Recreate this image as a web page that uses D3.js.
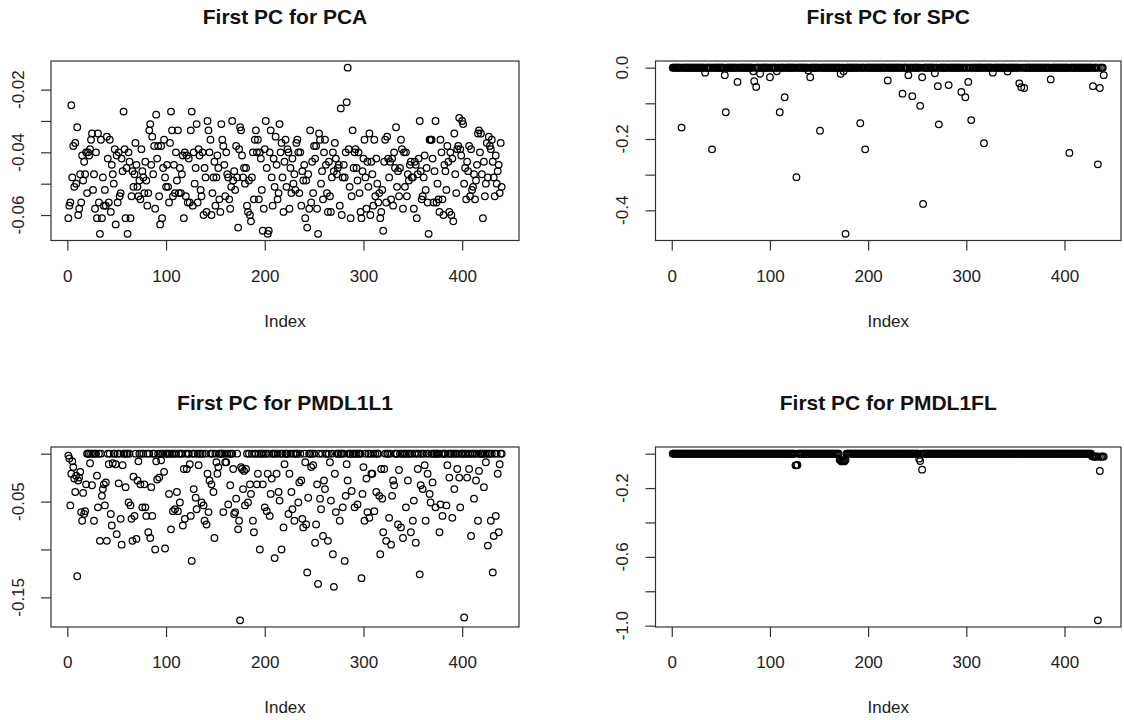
<!DOCTYPE html>
<html>
<head>
<meta charset="utf-8">
<script src="https://cdn.jsdelivr.net/npm/d3@7"></script>
<style>
  body { margin: 0; background: #fff; }
  svg { font-family: "Liberation Sans", Arial, sans-serif; }
</style>
</head>
<body>
<div id="vis"></div>
<script>
//number of loadings in each first PC
const n = 440

//x axis ticks, same for every panel
const xTicks = [0, 100, 200, 300, 400]

//first PC for ordinary PCA, one value per index
const pcaVal = [
  -0.061, -0.057, -0.056, -0.025, -0.048, -0.038, -0.051, -0.037, -0.050, -0.032,
  -0.060, -0.058, -0.047, -0.056, -0.041, -0.049, -0.043, -0.047, -0.040, -0.053,
  -0.040, -0.041, -0.039, -0.036, -0.034, -0.052, -0.047, -0.058, -0.040, -0.061,
  -0.034, -0.056, -0.066, -0.036, -0.061, -0.048, -0.057, -0.052, -0.057, -0.035,
  -0.042, -0.056, -0.036, -0.059, -0.044, -0.047, -0.050, -0.039, -0.063, -0.041,
  -0.056, -0.040, -0.054, -0.053, -0.042, -0.046, -0.027, -0.039, -0.061, -0.045,
  -0.066, -0.040, -0.043, -0.061, -0.054, -0.046, -0.051, -0.047, -0.037, -0.044,
  -0.051, -0.054, -0.049, -0.055, -0.039, -0.046, -0.048, -0.053, -0.043, -0.049,
  -0.057, -0.053, -0.033, -0.031, -0.044, -0.035, -0.047, -0.038, -0.058, -0.028,
  -0.042, -0.038, -0.054, -0.063, -0.038, -0.061, -0.045, -0.036, -0.048, -0.051,
  -0.044, -0.051, -0.056, -0.037, -0.027, -0.033, -0.054, -0.044, -0.053, -0.040,
  -0.049, -0.033, -0.053, -0.045, -0.053, -0.047, -0.041, -0.061, -0.040, -0.054,
  -0.041, -0.056, -0.042, -0.056, -0.033, -0.027, -0.057, -0.040, -0.050, -0.045,
  -0.031, -0.056, -0.039, -0.041, -0.052, -0.054, -0.040, -0.060, -0.045, -0.048,
  -0.059, -0.030, -0.033, -0.040, -0.036, -0.060, -0.053, -0.048, -0.043, -0.057,
  -0.048, -0.041, -0.045, -0.055, -0.059, -0.031, -0.036, -0.038, -0.044, -0.054,
  -0.040, -0.047, -0.048, -0.055, -0.058, -0.051, -0.030, -0.049, -0.046, -0.052,
  -0.038, -0.048, -0.064, -0.039, -0.032, -0.033, -0.041, -0.048, -0.045, -0.050,
  -0.045, -0.057, -0.059, -0.049, -0.060, -0.062, -0.048, -0.040, -0.055, -0.036,
  -0.033, -0.040, -0.036, -0.055, -0.040, -0.042, -0.052, -0.065, -0.058, -0.039,
  -0.030, -0.045, -0.066, -0.065, -0.040, -0.033, -0.048, -0.057, -0.042, -0.051,
  -0.035, -0.044, -0.055, -0.053, -0.031, -0.040, -0.037, -0.048, -0.059, -0.043,
  -0.036, -0.051, -0.039, -0.040, -0.058, -0.045, -0.053, -0.042, -0.050, -0.047,
  -0.052, -0.037, -0.036, -0.040, -0.053, -0.040, -0.057, -0.046, -0.049, -0.044,
  -0.061, -0.049, -0.064, -0.047, -0.058, -0.033, -0.056, -0.043, -0.053, -0.038,
  -0.042, -0.038, -0.058, -0.066, -0.034, -0.036, -0.050, -0.046, -0.055, -0.040,
  -0.036, -0.044, -0.053, -0.059, -0.043, -0.054, -0.059, -0.048, -0.040, -0.046,
  -0.037, -0.042, -0.047, -0.045, -0.044, -0.057, -0.026, -0.060, -0.048, -0.044,
  -0.048, -0.040, -0.024, -0.013, -0.039, -0.051, -0.061, -0.054, -0.033, -0.045,
  -0.040, -0.039, -0.045, -0.049, -0.040, -0.053, -0.059, -0.061, -0.046, -0.042,
  -0.036, -0.048, -0.058, -0.043, -0.051, -0.034, -0.060, -0.043, -0.047, -0.057,
  -0.036, -0.054, -0.042, -0.050, -0.056, -0.053, -0.061, -0.059, -0.052, -0.065,
  -0.043, -0.036, -0.056, -0.035, -0.042, -0.048, -0.043, -0.055, -0.042, -0.057,
  -0.040, -0.045, -0.032, -0.051, -0.046, -0.054, -0.045, -0.036, -0.039, -0.058,
  -0.040, -0.051, -0.040, -0.054, -0.047, -0.049, -0.044, -0.043, -0.048, -0.048,
  -0.058, -0.043, -0.044, -0.061, -0.047, -0.042, -0.030, -0.046, -0.055, -0.054,
  -0.048, -0.041, -0.052, -0.045, -0.056, -0.066, -0.036, -0.036, -0.036, -0.042,
  -0.056, -0.046, -0.030, -0.056, -0.050, -0.055, -0.059, -0.036, -0.040, -0.055,
  -0.060, -0.044, -0.046, -0.052, -0.038, -0.043, -0.059, -0.040, -0.060, -0.042,
  -0.062, -0.034, -0.047, -0.053, -0.039, -0.038, -0.029, -0.039, -0.041, -0.030,
  -0.031, -0.050, -0.045, -0.055, -0.043, -0.046, -0.038, -0.054, -0.039, -0.052,
  -0.051, -0.047, -0.055, -0.049, -0.044, -0.034, -0.033, -0.040, -0.034, -0.047,
  -0.061, -0.043, -0.054, -0.050, -0.037, -0.048, -0.035, -0.038, -0.039, -0.036,
  -0.043, -0.048, -0.054, -0.041, -0.050, -0.046, -0.044, -0.053, -0.037, -0.051
]

//sparse PCs: only the non zero loadings are listed (index, value), all others are 0
const spcIdx = [10, 34, 41, 54, 55, 67, 83, 84, 86, 90, 100, 107, 110, 115, 127, 139, 141, 151, 172, 175,
  177, 192, 197, 220, 235, 241, 245, 253, 255, 256, 268, 271, 272, 282, 295, 299, 302, 305, 318, 327,
  342, 354, 356, 359, 386, 405, 429, 434, 436, 440]
const spcVal = [-0.168, -0.014, -0.229, -0.021, -0.125, -0.040, -0.010, -0.038, -0.054, -0.017, -0.027, -0.010, -0.125, -0.083, -0.307, -0.008, -0.027, -0.177, -0.017, -0.010,
  -0.466, -0.156, -0.229, -0.036, -0.073, -0.021, -0.080, -0.107, -0.027, -0.382, -0.016, -0.052, -0.159, -0.049, -0.068, -0.083, -0.040, -0.147, -0.212, -0.014,
  -0.011, -0.044, -0.055, -0.057, -0.033, -0.239, -0.052, -0.271, -0.057, -0.021]

const l1Idx = [1, 2, 3, 4, 5, 6, 7, 8, 9, 10, 11, 12, 13, 14, 15, 16, 17, 18, 19, 23,
  25, 27, 30, 31, 33, 35, 36, 37, 38, 39, 40, 42, 44, 45, 46, 49, 50, 52, 54, 55,
  56, 59, 62, 64, 65, 66, 67, 68, 70, 71, 72, 74, 76, 78, 79, 80, 82, 84, 85, 86,
  89, 90, 91, 93, 95, 98, 99, 103, 105, 107, 109, 111, 112, 114, 117, 118, 119, 121, 124, 125,
  126, 128, 130, 131, 133, 136, 138, 139, 141, 142, 143, 144, 146, 148, 149, 151, 152, 153, 158, 160,
  161, 163, 165, 168, 169, 170, 171, 173, 174, 175, 176, 177, 178, 179, 180, 181, 183, 185, 186, 188,
  189, 192, 193, 195, 198, 200, 202, 203, 205, 206, 207, 210, 212, 214, 215, 217, 219, 220, 224, 225,
  227, 228, 230, 234, 235, 237, 238, 239, 241, 242, 243, 244, 247, 249, 251, 252, 253, 254, 256, 257,
  259, 260, 261, 264, 266, 267, 269, 270, 271, 272, 276, 279, 281, 282, 283, 284, 288, 291, 294, 298,
  299, 300, 301, 303, 304, 306, 308, 309, 311, 313, 316, 317, 318, 319, 320, 321, 323, 326, 328, 329,
  330, 331, 335, 336, 338, 340, 343, 345, 348, 350, 351, 353, 355, 357, 358, 360, 362, 363, 365, 367,
  368, 370, 373, 377, 378, 380, 384, 385, 387, 390, 392, 395, 397, 398, 402, 405, 407, 409, 412, 414,
  416, 417, 422, 424, 426, 429, 431, 432, 434, 436, 437, 438]
const l1Val = [-0.002, -0.005, -0.054, -0.021, -0.008, -0.014, -0.026, -0.040, -0.023, -0.128, -0.028, -0.025, -0.019, -0.061, -0.070, -0.041, -0.063, -0.060, -0.032, -0.010,
  -0.033, -0.070, -0.023, -0.056, -0.091, -0.044, -0.037, -0.032, -0.054, -0.030, -0.091, -0.011, -0.063, -0.075, -0.010, -0.011, -0.084, -0.031, -0.068, -0.095,
  -0.012, -0.035, -0.051, -0.054, -0.068, -0.091, -0.024, -0.065, -0.089, -0.028, -0.008, -0.032, -0.056, -0.032, -0.056, -0.065, -0.082, -0.088, -0.035, -0.065,
  -0.100, -0.008, -0.027, -0.025, -0.007, -0.019, -0.099, -0.042, -0.079, -0.060, -0.058, -0.040, -0.060, -0.051, -0.075, -0.016, -0.068, -0.016, -0.011, -0.065,
  -0.112, -0.037, -0.046, -0.058, -0.012, -0.051, -0.054, -0.070, -0.074, -0.021, -0.061, -0.028, -0.032, -0.040, -0.088, -0.009, -0.021, -0.014, -0.061, -0.009,
  -0.009, -0.053, -0.033, -0.016, -0.063, -0.061, -0.047, -0.079, -0.070, -0.174, -0.014, -0.016, -0.037, -0.018, -0.054, -0.016, -0.051, -0.032, -0.042, -0.070,
  -0.082, -0.032, -0.021, -0.100, -0.032, -0.056, -0.060, -0.021, -0.065, -0.042, -0.026, -0.109, -0.021, -0.040, -0.049, -0.100, -0.077, -0.011, -0.063, -0.021,
  -0.040, -0.058, -0.070, -0.051, -0.030, -0.028, -0.068, -0.077, -0.009, -0.074, -0.124, -0.046, -0.014, -0.012, -0.093, -0.074, -0.032, -0.136, -0.047, -0.058,
  -0.086, -0.028, -0.037, -0.091, -0.009, -0.049, -0.105, -0.139, -0.021, -0.061, -0.070, -0.056, -0.112, -0.044, -0.011, -0.028, -0.039, -0.056, -0.053, -0.130,
  -0.042, -0.014, -0.070, -0.026, -0.061, -0.067, -0.021, -0.021, -0.060, -0.040, -0.044, -0.105, -0.016, -0.047, -0.082, -0.016, -0.091, -0.067, -0.095, -0.044,
  -0.028, -0.033, -0.074, -0.017, -0.077, -0.088, -0.056, -0.028, -0.082, -0.070, -0.049, -0.093, -0.016, -0.126, -0.033, -0.037, -0.012, -0.070, -0.021, -0.042,
  -0.051, -0.030, -0.056, -0.082, -0.053, -0.065, -0.054, -0.012, -0.025, -0.067, -0.037, -0.016, -0.025, -0.056, -0.171, -0.025, -0.016, -0.086, -0.047, -0.028,
  -0.070, -0.018, -0.035, -0.009, -0.096, -0.070, -0.124, -0.086, -0.065, -0.021, -0.082, -0.011]

const flIdx = [126, 127, 128, 171, 172, 173, 174, 175, 176, 177, 252, 253, 255,
  428, 429, 430, 431, 432, 433, 434, 435, 436, 437, 438, 439, 440]
const flVal = [-0.068, -0.068, -0.066, -0.035, -0.040, -0.045, -0.042, -0.038, -0.044, -0.036, -0.029, -0.043, -0.093,
  -0.015, -0.016, -0.017, -0.018, -0.017, -0.016, -0.969, -0.017, -0.101, -0.018, -0.017, -0.016, -0.017]

//y ticks of each panel, and the labels R kept (overlapping ones dropped)
const pcaTicks = [-0.06, -0.05, -0.04, -0.03, -0.02]
const pcaLabels = ["-0.06", "", "-0.04", "", "-0.02"]
const spcTicks = [-0.4, -0.3, -0.2, -0.1, 0]
const spcLabels = ["-0.4", "", "-0.2", "", "0.0"]
const l1Ticks = [-0.15, -0.10, -0.05, 0]
const l1Labels = ["-0.15", "", "-0.05", ""]
const flTicks = [-1.0, -0.8, -0.6, -0.4, -0.2, 0]
const flLabels = ["-1.0", "", "-0.6", "", "-0.2", ""]

//turn a sparse list into one value per index
function fill(idx, val) {
    const full = new Array(n).fill(0)
    idx.forEach((k, i) => { full[k - 1] = val[i] })
    return full
}

//R style axis range: data range extended by 4% on each side
function pad(ext) {
    const r = ext[1] - ext[0]
    return [ext[0] - 0.04 * r, ext[1] + 0.04 * r]
}

const width = 1124
const height = 720

const svg = d3.select("#vis")
    .append("svg")
    .attr("width", width)
    .attr("height", height)

//plot boxes
const cols = [{ left: 51, right: 519 }, { left: 655.5, right: 1121 }]
const rows = [{ top: 61, bottom: 240.5 }, { top: 447, bottom: 627 }]

const panels = [
    { title: "First PC for PCA", values: pcaVal, ticks: pcaTicks, labels: pcaLabels, col: 0, row: 0 },
    { title: "First PC for SPC", values: fill(spcIdx, spcVal), ticks: spcTicks, labels: spcLabels, col: 1, row: 0 },
    { title: "First PC for PMDL1L1", values: fill(l1Idx, l1Val), ticks: l1Ticks, labels: l1Labels, col: 0, row: 1 },
    { title: "First PC for PMDL1FL", values: fill(flIdx, flVal), ticks: flTicks, labels: flLabels, col: 1, row: 1 }
]

panels.forEach(p => {
    const left = cols[p.col].left
    const right = cols[p.col].right
    const top = rows[p.row].top
    const bottom = rows[p.row].bottom

    const x = d3.scaleLinear()
        .domain(pad([1, n]))
        .range([left, right])

    const y = d3.scaleLinear()
        .domain(pad(d3.extent(p.values)))
        .range([bottom, top])

    const g = svg.append("g")

    //points, open circles like pch = 1
    g.selectAll("circle")
        .data(p.values)
        .enter()
        .append("circle")
        .attr("cx", (d, i) => x(i + 1))
        .attr("cy", d => y(d))
        .attr("r", 3.3)
        .attr("fill", "none")
        .attr("stroke", "#000")
        .attr("stroke-width", 1.25)

    //box round the plot
    g.append("rect")
        .attr("x", left)
        .attr("y", top)
        .attr("width", right - left)
        .attr("height", bottom - top)
        .attr("fill", "none")
        .attr("stroke", "#333")
        .attr("stroke-width", 1.2)

    //x axis
    const xa = g.append("g")
        .attr("transform", `translate(0,${bottom})`)
        .call(d3.axisBottom(x).tickValues(xTicks).tickSize(10).tickPadding(19).tickFormat(d3.format("d")))
    xa.select(".domain").remove()
    xa.selectAll("line").attr("stroke", "#333").attr("stroke-width", 1.2)
    xa.selectAll("text").attr("font-size", 17).attr("fill", "#222").attr("font-family", null)

    //y axis, ticks only; labels are rotated like R's las = 0
    const ya = g.append("g")
        .attr("transform", `translate(${left},0)`)
        .call(d3.axisLeft(y).tickValues(p.ticks).tickSize(10).tickFormat(""))
    ya.select(".domain").remove()
    ya.selectAll("line").attr("stroke", "#333").attr("stroke-width", 1.2)

    g.selectAll(".ylab")
        .data(p.ticks)
        .enter()
        .append("text")
        .attr("class", "ylab")
        .attr("transform", d => `translate(${left - 33},${y(d)}) rotate(-90)`)
        .attr("text-anchor", "middle")
        .attr("dy", "0.35em")
        .attr("font-size", 17)
        .attr("fill", "#222")
        .text((d, i) => p.labels[i])

    //title and x label
    g.append("text")
        .attr("x", (left + right) / 2)
        .attr("y", top - 44)
        .attr("dy", "0.35em")
        .attr("text-anchor", "middle")
        .attr("font-size", 21)
        .attr("font-weight", "bold")
        .attr("fill", "#111")
        .text(p.title)

    g.append("text")
        .attr("x", (left + right) / 2)
        .attr("y", bottom + 80.5)
        .attr("dy", "0.35em")
        .attr("text-anchor", "middle")
        .attr("font-size", 17)
        .attr("fill", "#222")
        .text("Index")
})
</script>
</body>
</html>
